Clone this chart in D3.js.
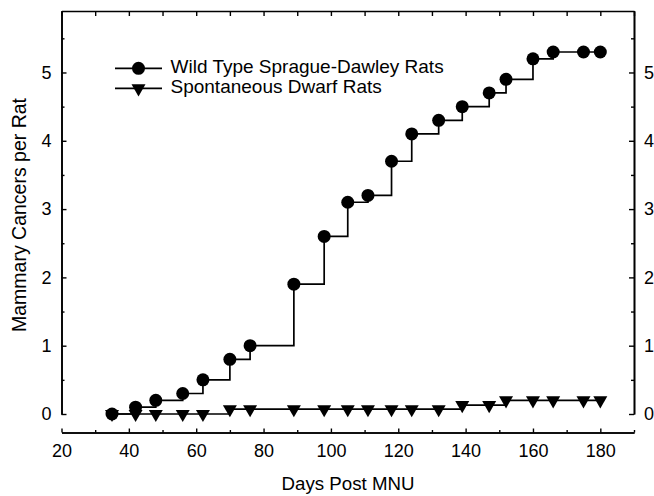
<!DOCTYPE html>
<html>
<head>
<meta charset="utf-8">
<script src="https://cdn.jsdelivr.net/npm/d3@7"></script>
<style>
  body { margin: 0; background: #fff; }
  text { font-family: "Liberation Sans", Arial, sans-serif; fill: #000; }
</style>
</head>
<body>
<div id="chart"></div>
<script>
const days = [35, 42, 48, 56, 62, 70, 76, 89, 98, 105, 111, 118, 124, 132, 139, 147, 152, 160, 166, 175, 180];
const wildType = [0, 0.1, 0.2, 0.3, 0.5, 0.8, 1.0, 1.9, 2.6, 3.1, 3.2, 3.7, 4.1, 4.3, 4.5, 4.7, 4.9, 5.2, 5.3, 5.3, 5.3];
const dwarf = [0, 0, 0, 0, 0, 0.07, 0.07, 0.07, 0.07, 0.07, 0.07, 0.07, 0.07, 0.07, 0.13, 0.13, 0.2, 0.2, 0.2, 0.2, 0.2];
const seriesNames = ["Wild Type Sprague-Dawley Rats", "Spontaneous Dwarf Rats"];
const xTicks = [20, 40, 60, 80, 100, 120, 140, 160, 180];
const xMinorTicks = [30, 50, 70, 90, 110, 130, 150, 170, 190];
const yTicks = [0, 1, 2, 3, 4, 5];
const yMinorTicks = [0.5, 1.5, 2.5, 3.5, 4.5, 5.5];

const WIDTH = 654;
const HEIGHT = 496;
const LINE_WIDTH = 1.7;

const x = d3.scaleLinear().domain([20, 190]).range([61.5, 634]);
const y = d3.scaleLinear().domain([0, 5.9]).range([414, 11]);
const xAxisY = 432.5;

const svg = d3
  .select("#chart")
  .append("svg")
  .attr("width", WIDTH)
  .attr("height", HEIGHT);

// frame: left, top, right (bottom axis is detached below)
const axes = svg.append("g").attr("class", "axes");

function styleAxis(g, fontSize) {
  g.selectAll("path").attr("stroke", "#000").attr("stroke-width", 1.6);
  g.selectAll("line").attr("stroke", "#000").attr("stroke-width", 1.4);
  g.selectAll("text")
    .attr("font-size", fontSize)
    .attr("font-family", '"Liberation Sans", Arial, sans-serif');
  g.attr("font-family", null).attr("font-size", null);
}

axes
  .append("g")
  .attr("transform", `translate(${x.range()[0]},0)`)
  .call(d3.axisLeft(y).tickValues(yTicks).tickSize(-5).tickSizeOuter(0).tickPadding(10).tickFormat(d3.format("d")))
  .call((g) => styleAxis(g, 18));

axes
  .append("g")
  .attr("transform", `translate(${x.range()[0]},0)`)
  .call(d3.axisLeft(y).tickValues(yMinorTicks).tickSize(-3).tickSizeOuter(0).tickFormat(""))
  .call((g) => styleAxis(g, 18));

axes
  .append("g")
  .attr("transform", `translate(${x.range()[1]},0)`)
  .call(d3.axisRight(y).tickValues(yTicks).tickSize(-5).tickSizeOuter(0).tickPadding(10).tickFormat(d3.format("d")))
  .call((g) => styleAxis(g, 18));

axes
  .append("g")
  .attr("transform", `translate(${x.range()[1]},0)`)
  .call(d3.axisRight(y).tickValues(yMinorTicks).tickSize(-3).tickSizeOuter(0).tickFormat(""))
  .call((g) => styleAxis(g, 18));

axes
  .append("g")
  .attr("transform", `translate(0,${y.range()[1]})`)
  .call(d3.axisTop(x).tickValues(xTicks.concat(xMinorTicks)).tickSize(-5).tickSizeOuter(0).tickFormat(""))
  .call((g) => styleAxis(g, 18));

axes
  .append("g")
  .attr("transform", `translate(0,${xAxisY})`)
  .call(d3.axisBottom(x).tickValues(xTicks).tickSize(-4).tickSizeOuter(0).tickPadding(12))
  .call((g) => styleAxis(g, 18));

axes
  .append("g")
  .attr("transform", `translate(0,${xAxisY})`)
  .call(d3.axisBottom(x).tickValues(xMinorTicks).tickSize(-2.5).tickSizeOuter(0).tickFormat(""))
  .call((g) => styleAxis(g, 18));

// titles
svg
  .append("text")
  .attr("x", 348)
  .attr("y", 490)
  .attr("text-anchor", "middle")
  .attr("font-size", 18.7)
  .text("Days Post MNU");

svg
  .append("text")
  .attr("transform", "translate(26,215) rotate(-90)")
  .attr("text-anchor", "middle")
  .attr("font-size", 19.5)
  .text("Mammary Cancers per Rat");

// step lines
const stepLine = d3
  .line()
  .x((d) => x(d[0]))
  .y((d) => y(d[1]))
  .curve(d3.curveStepAfter);

const series = [wildType, dwarf].map((vals) => days.map((d, i) => [d, vals[i]]));

const lines = svg.append("g").attr("class", "lines");
lines
  .selectAll("path")
  .data(series)
  .join("path")
  .attr("d", stepLine)
  .attr("fill", "none")
  .attr("stroke", "#000")
  .attr("stroke-width", LINE_WIDTH);

const triangle = d3.symbol().type(d3.symbolTriangle).size(85);

const markers = svg.append("g").attr("class", "markers");
markers
  .selectAll("path")
  .data(series[1])
  .join("path")
  .attr("d", triangle)
  .attr("transform", (d) => `translate(${x(d[0])},${y(d[1])}) rotate(180)`)
  .attr("fill", "#000");

markers
  .selectAll("circle")
  .data(series[0])
  .join("circle")
  .attr("cx", (d) => x(d[0]))
  .attr("cy", (d) => y(d[1]))
  .attr("r", 6.5)
  .attr("fill", "#000");

// legend
const legend = svg.append("g").attr("class", "legend");
const legendRows = legend
  .selectAll("g")
  .data(seriesNames)
  .join("g")
  .attr("transform", (d, i) => `translate(0,${68.3 + i * 20})`);

legendRows
  .append("line")
  .attr("x1", 115)
  .attr("x2", 162)
  .attr("stroke", "#000")
  .attr("stroke-width", LINE_WIDTH);

legendRows
  .filter((d, i) => i == 0)
  .append("circle")
  .attr("cx", 138.5)
  .attr("r", 6.5)
  .attr("fill", "#000");

legendRows
  .filter((d, i) => i == 1)
  .append("path")
  .attr("d", triangle)
  .attr("transform", "translate(138.5,0) rotate(180)")
  .attr("fill", "#000");

legendRows
  .append("text")
  .attr("x", 170.5)
  .attr("y", 4.5)
  .attr("font-size", 19)
  .text((d) => d);
</script>
</body>
</html>
